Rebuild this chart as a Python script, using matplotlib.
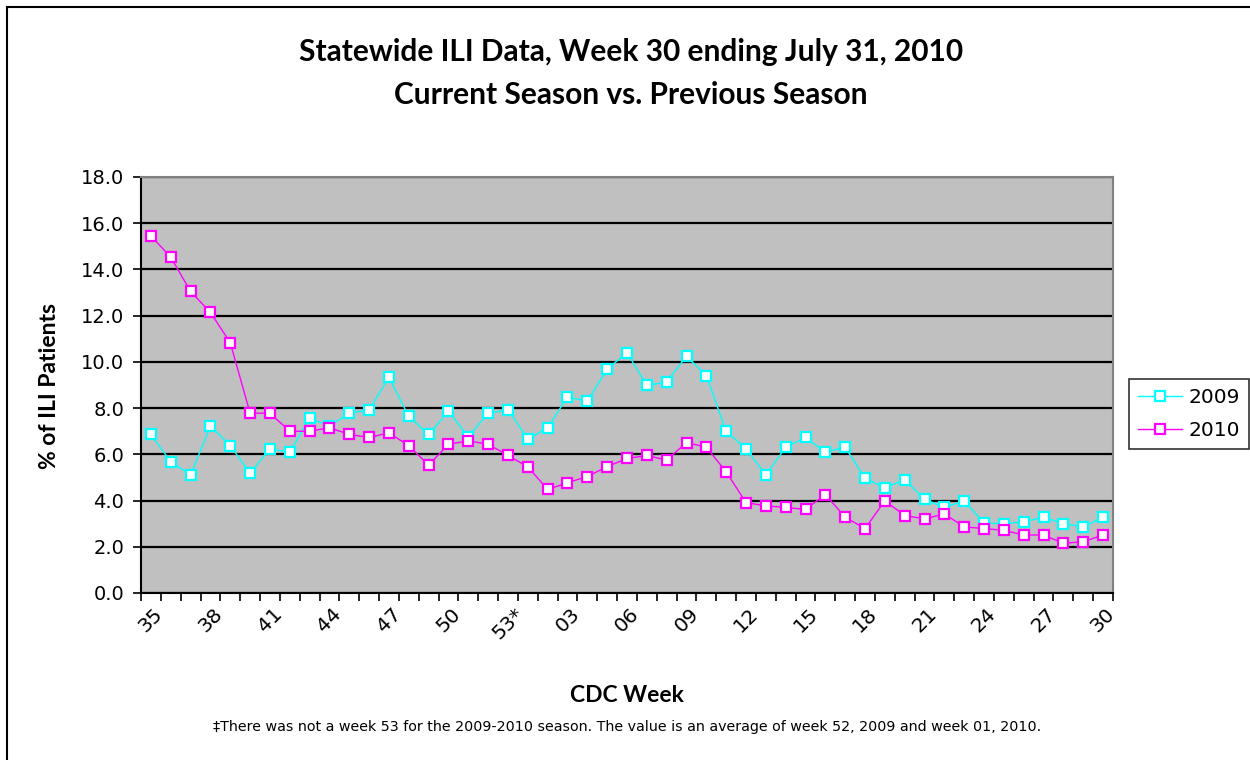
import matplotlib
matplotlib.use('Agg')
import matplotlib.pyplot as plt
from matplotlib.patches import Rectangle

# weeks of the season, 35..53 then 01..30
weeks = [str(w) for w in range(35, 53)] + ['53*'] + ['%02d' % w for w in range(1, 31)]

# % of ILI patients
ili_2009 = [6.86, 5.68, 5.11, 7.22, 6.38, 5.18, 6.24, 6.09, 7.57, 7.22,
            7.78, 7.93, 9.33, 7.64, 6.86, 7.86, 6.76, 7.78, 7.93, 6.66,
            7.15, 8.49, 8.29, 9.69, 10.40, 8.98, 9.13, 10.25, 9.40, 7.00,
            6.24, 5.11, 6.31, 6.73, 6.09, 6.31, 4.97, 4.55, 4.90, 4.06,
            3.70, 3.99, 3.03, 3.00, 3.08, 3.28, 3.00, 2.86, 3.28]
ili_2010 = [15.45, 14.53, 13.05, 12.14, 10.83, 7.78, 7.78, 7.00, 7.00, 7.15,
            6.86, 6.73, 6.93, 6.37, 5.53, 6.44, 6.58, 6.44, 5.95, 5.46,
            4.48, 4.77, 5.04, 5.47, 5.82, 5.95, 5.75, 6.51, 6.31, 5.24,
            3.91, 3.77, 3.70, 3.62, 4.26, 3.28, 2.79, 3.99, 3.35, 3.21,
            3.42, 2.86, 2.79, 2.71, 2.51, 2.51, 2.15, 2.22, 2.51]

fig = plt.figure(figsize=(12.5, 7.6), dpi=100)
ax = fig.add_axes([141 / 1250, 1 - 593 / 760, 972 / 1250, 416 / 760])
ax.set_facecolor('#c0c0c0')

x = list(range(len(weeks)))
ax.plot(x, ili_2009, c='#00ffff', lw=1.0, marker='s', ms=7, mfc='white',
        mec='#00ffff', mew=1.6, label='2009', zorder=3)
ax.plot(x, ili_2010, c='#ff00ff', lw=1.0, marker='s', ms=7, mfc='white',
        mec='#ff00ff', mew=1.6, label='2010', zorder=3)

ax.set_xlim(-0.5, len(weeks) - 0.5)
ax.set_ylim(0, 18)
ax.set_yticks(range(0, 19, 2))
ax.set_yticklabels(['%.1f' % v for v in range(0, 19, 2)])
ax.yaxis.grid(True, color='black', lw=1.6)
ax.set_axisbelow(True)

# category boundary ticks, labels every third week
ax.set_xticks([i - 0.5 for i in range(len(weeks) + 1)], minor=True)
ax.set_xticks(x[::3])
ax.set_xticklabels(weeks[::3], rotation=45, ha='center', va='top')
ax.tick_params(axis='x', which='major', length=0, pad=8, labelsize=14.5)
ax.tick_params(axis='x', which='minor', length=6, width=1.2, direction='out')
ax.tick_params(axis='y', length=6, width=1.2, direction='out', labelsize=14, pad=6)

for side in ['top', 'right']:
    ax.spines[side].set_color('#808080')
    ax.spines[side].set_linewidth(1.5)
for side in ['left', 'bottom']:
    ax.spines[side].set_color('black')
    ax.spines[side].set_linewidth(1.5)

fig.text(0.505, 1 - 52 / 760, 'Statewide ILI Data, Week 30 ending July 31, 2010',
         ha='center', va='center', fontsize=21.5, fontweight='bold', family='Lato')
fig.text(0.505, 1 - 95 / 760, 'Current Season vs. Previous Season',
         ha='center', va='center', fontsize=21.5, fontweight='bold', family='Lato')
fig.text(627 / 1250, 1 - 695 / 760, 'CDC Week', ha='center', va='center',
         fontsize=16.5, fontweight='bold', family='Lato')
fig.text(50 / 1250, 1 - 386 / 760, '% of ILI Patients', ha='center', va='center',
         rotation=90, fontsize=16.5, fontweight='bold', family='Lato')
fig.text(627 / 1250, 1 - 727 / 760,
         '\u2021There was not a week 53 for the 2009-2010 season. The value is an average of week 52, 2009 and week 01, 2010.',
         ha='center', va='center', fontsize=10.3)

leg = ax.legend(loc='center left', bbox_to_anchor=(1129 / 1250, 1 - 414 / 760),
                bbox_transform=fig.transFigure, fontsize=14.5, frameon=True,
                fancybox=False, edgecolor='black', handlelength=2.2,
                handletextpad=0.3, borderpad=0.45, labelspacing=0.7,
                borderaxespad=0)
leg.get_frame().set_linewidth(1.2)

# outer chart frame
fig.patches.append(Rectangle((7 / 1250, -0.1), 1.2, 1 - 7 / 760 + 0.1,
                             transform=fig.transFigure, fill=False,
                             edgecolor='black', lw=1.5))

fig.savefig('out.png', dpi=100)
